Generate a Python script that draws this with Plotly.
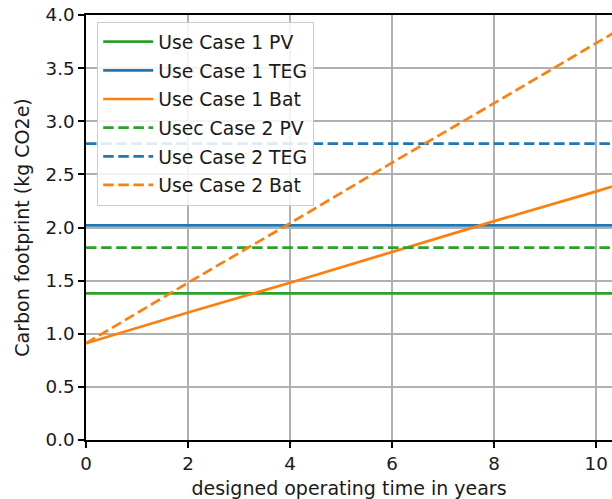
import plotly.graph_objects as go

years = [0, 2, 4, 6, 8, 10, 12]
uc1_pv = [1.38, 1.38, 1.38, 1.38, 1.38, 1.38, 1.38]
uc1_teg = [2.02, 2.02, 2.02, 2.02, 2.02, 2.02, 2.02]
uc1_bat = [0.91, 1.20, 1.48, 1.77, 2.06, 2.34, 2.63]
uc2_pv = [1.81, 1.81, 1.81, 1.81, 1.81, 1.81, 1.81]
uc2_teg = [2.79, 2.79, 2.79, 2.79, 2.79, 2.79, 2.79]
uc2_bat = [0.91, 1.48, 2.04, 2.61, 3.17, 3.74, 4.30]

names = ["Use Case 1 PV", "Use Case 1 TEG", "Use Case 1 Bat",
         "Usec Case 2 PV", "Use Case 2 TEG", "Use Case 2 Bat"]
series = [uc1_pv, uc1_teg, uc1_bat, uc2_pv, uc2_teg, uc2_bat]
colors = ["#2ca02c", "#1f77b4", "#ff7f0e", "#2ca02c", "#1f77b4", "#ff7f0e"]
dashes = ["solid", "solid", "solid", "10.5px,4.6px", "10.5px,4.6px", "10.5px,4.6px"]

fig = go.Figure()
for i, (n, s, c, d) in enumerate(zip(names, series, colors, dashes)):
    fig.add_trace(go.Scatter(x=years, y=s, mode="lines", name=n,
                             legendgroup=f"g{i}",
                             line=dict(color=c, width=2.7, dash=d)))

font = "DejaVu Sans, sans-serif"
tick_fs = 18.3
lab_fs = 19
leg_fs = 18.8
fig.update_layout(
    width=612, height=499,
    margin=dict(l=86, r=0, t=15, b=59),
    paper_bgcolor="white", plot_bgcolor="white",
    font=dict(family=font, size=lab_fs, color="#1a1a1a"),
    showlegend=True,
    legend=dict(x=0.0209, y=0.984, xanchor="left", yanchor="top",
                bgcolor="rgba(255,255,255,0.85)", bordercolor="#cccccc",
                borderwidth=1.2, tracegroupgap=1.2, itemwidth=50,
                font=dict(family=font, size=leg_fs, color="#1a1a1a")),
    xaxis=dict(range=[0, 10.31], tickvals=[0, 2, 4, 6, 8, 10],
               showgrid=True, gridcolor="#b0b0b0", gridwidth=1.5,
               showline=True, linecolor="black", linewidth=1.5, mirror=True,
               ticks="outside", ticklen=6, tickwidth=1.5, tickcolor="black",
               zeroline=False, automargin=False,
               tickfont=dict(size=tick_fs),
               title=dict(text="designed operating time in years", standoff=12,
                          font=dict(size=lab_fs))),
    yaxis=dict(range=[0, 4.0], tickvals=[0, 0.5, 1.0, 1.5, 2.0, 2.5, 3.0, 3.5, 4.0],
               tickformat=".1f",
               showgrid=True, gridcolor="#b0b0b0", gridwidth=1.5,
               showline=True, linecolor="black", linewidth=1.5,
               ticks="outside", ticklen=6, tickwidth=1.5, tickcolor="black",
               zeroline=False, automargin=False,
               tickfont=dict(size=tick_fs),
               title=dict(text="Carbon footprint (kg CO2e)", standoff=11,
                          font=dict(size=lab_fs))),
)

fig.write_html("out.html", config={"displayModeBar": False},
               post_script="document.body.style.margin='0';")
